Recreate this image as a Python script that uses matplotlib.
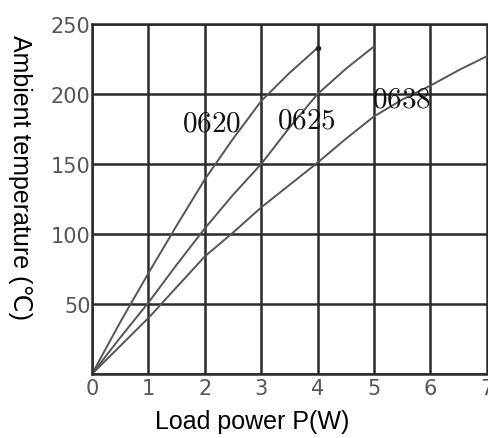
import matplotlib.pyplot as plt

# values
p_0620 = [0, 0.5, 1, 1.5, 2, 2.5, 3, 3.5, 4]
t_0620 = [0, 37, 72, 106, 139, 168, 195, 215, 233]
p_0625 = [0, 0.5, 1, 1.5, 2, 2.5, 3, 3.5, 4, 4.5, 5]
t_0625 = [0, 26, 51, 78, 104, 128, 150, 176, 200, 218, 234]
p_0638 = [0, 0.5, 1, 1.5, 2, 2.5, 3, 3.5, 4, 4.5, 5, 5.5, 6, 6.5, 7]
t_0638 = [0, 20, 40, 62, 84, 101, 119, 135, 151, 168, 184, 196, 206, 217, 227]
labels = ['0620', '0625', '0638']
label_pos = [(2.12, 180), (3.80, 182), (5.49, 197)]
x_ticks = [0, 1, 2, 3, 4, 5, 6, 7]
y_ticks = [0, 50, 100, 150, 200, 250]
y_ticklabels = ['', '50', '100', '150', '200', '250']

plt.rcParams['mathtext.fontset'] = 'cm'

fig = plt.figure(figsize=(4.89, 4.39), dpi=100)
ax = fig.add_axes([92 / 489, 64 / 439, 396 / 489, 350 / 439])

curve_col = '#555555'
grid_col = '#2a2a2a'
ax.plot(p_0620, t_0620, color=curve_col, lw=1.4)
ax.plot(p_0625, t_0625, color=curve_col, lw=1.4)
ax.plot(p_0638, t_0638, color=curve_col, lw=1.4)
ax.plot(p_0620[-1], t_0620[-1], 'o', color='#222222', ms=3)

for lab, (x, y) in zip(labels, label_pos):
    ax.text(x, y, '$' + lab + '$', fontsize=21, ha='center', va='center', color='#111111')

ax.set_xlim(0, 7.02)
ax.set_ylim(0, 250)
ax.set_xticks(x_ticks)
ax.set_yticks(y_ticks)
ax.set_yticklabels(y_ticklabels)
ax.grid(True, color=grid_col, lw=1.8)
ax.set_axisbelow(True)
for s in ax.spines.values():
    s.set_visible(False)
ax.tick_params(length=0, labelsize=15, labelcolor='#555555')
ax.tick_params(axis='x', pad=3)
ax.tick_params(axis='y', pad=1)
ax.axhline(250, color=grid_col, lw=1.8, clip_on=False)
ax.axhline(0, color=grid_col, lw=1.8, clip_on=False)
ax.axvline(0, color=grid_col, lw=1.8, clip_on=False)

ax.set_xlabel('Load power P(W)', fontsize=18, family='Liberation Sans')
ax.xaxis.set_label_coords(0.404, -0.1)
ax.set_ylabel('Ambient temperature (℃)', fontsize=18, family=['Liberation Sans', 'DejaVu Sans'],
              rotation=-90, va='center')
ax.yaxis.set_label_coords(-0.182, 0.563)

fig.savefig('out.png', dpi=100)
